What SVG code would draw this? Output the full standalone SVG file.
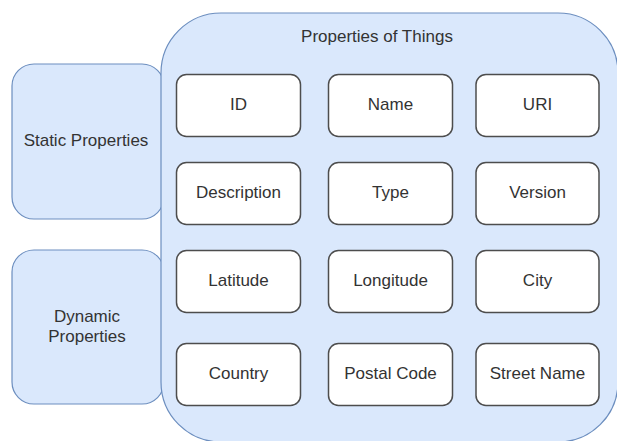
<svg xmlns="http://www.w3.org/2000/svg" width="617" height="441" viewBox="0 0 617 441">
  <style>
    .group { fill: #dae8fc; stroke: #6c8ebf; stroke-width: 1.2; }
    .item { fill: #ffffff; stroke: #4d4d4d; stroke-width: 1.5; }
    text { font-family: "Liberation Sans", Arial, sans-serif; font-size: 17px; fill: #333333; text-anchor: middle; }
  </style>
  <rect width="617" height="441" fill="#ffffff"/>

  <g id="static-properties">
    <rect class="group" x="12" y="64" width="152" height="155" rx="22"/>
    <text x="86" y="146">Static Properties</text>
  </g>
  <g id="dynamic-properties">
    <rect class="group" x="12" y="250" width="152" height="154" rx="22"/>
    <text x="87" y="322">Dynamic</text>
    <text x="87" y="342">Properties</text>
  </g>

  <g id="properties-of-things">
    <rect class="group" x="161" y="13" width="457" height="429" rx="60"/>
    <text x="377" y="42">Properties of Things</text>
  </g>

  <g id="id"><rect class="item" x="176.5" y="74.5" width="124" height="62" rx="10"/><text x="238.5" y="110">ID</text></g>
  <g id="name"><rect class="item" x="328.5" y="74.5" width="124" height="62" rx="10"/><text x="390.5" y="110">Name</text></g>
  <g id="uri"><rect class="item" x="476" y="74.5" width="123" height="62" rx="10"/><text x="537.5" y="110">URI</text></g>

  <g id="description"><rect class="item" x="176.5" y="162.5" width="124" height="62" rx="10"/><text x="238.5" y="198">Description</text></g>
  <g id="type"><rect class="item" x="328.5" y="162.5" width="124" height="62" rx="10"/><text x="390.5" y="198">Type</text></g>
  <g id="version"><rect class="item" x="476" y="162.5" width="123" height="62" rx="10"/><text x="537.5" y="198">Version</text></g>

  <g id="latitude"><rect class="item" x="176.5" y="250.5" width="124" height="62" rx="10"/><text x="238.5" y="286">Latitude</text></g>
  <g id="longitude"><rect class="item" x="328.5" y="250.5" width="124" height="62" rx="10"/><text x="390.5" y="286">Longitude</text></g>
  <g id="city"><rect class="item" x="476" y="250.5" width="123" height="62" rx="10"/><text x="537.5" y="286">City</text></g>

  <g id="country"><rect class="item" x="176.5" y="343.5" width="124" height="62" rx="10"/><text x="238.5" y="379">Country</text></g>
  <g id="postal-code"><rect class="item" x="328.5" y="343.5" width="124" height="62" rx="10"/><text x="390.5" y="379">Postal Code</text></g>
  <g id="street-name"><rect class="item" x="476" y="343.5" width="123" height="62" rx="10"/><text x="537.5" y="379">Street Name</text></g>

  <g id="connectors"/>
</svg>
